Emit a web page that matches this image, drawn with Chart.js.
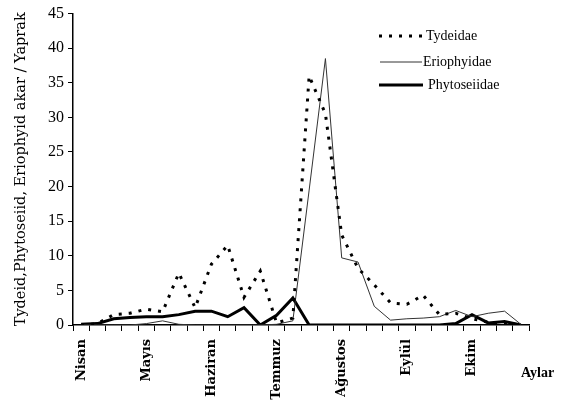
<!DOCTYPE html>
<html>
<head>
<meta charset="utf-8">
<script src="https://cdn.jsdelivr.net/npm/chart.js@4/dist/chart.umd.min.js"></script>
<style>
  html, body { margin: 0; padding: 0; background: #fff; }
  #wrap { width: 561px; height: 410px; position: relative; }
</style>
</head>
<body>
<div id="wrap"><canvas id="c" width="561" height="410"></canvas></div>
<script>
// ---- data ----
const months = ['Nisan', 'Mayıs', 'Haziran', 'Temmuz', 'Ağustos', 'Eylül', 'Ekim'];
const weeksPerMonth = 4;
const seriesNames = ['Tydeidae', 'Eriophyidae', 'Phytoseiidae'];
const tydeidae     = [0, 0.2, 1.5, 1.7, 2.3, 1.9, 7.5, 2.5, 8.8, 11.5, 4, 7.8, 0.3, 1, 36, 30.5, 13, 8.2, 5.8, 3.2, 3, 4.3, 1.5, 1.7, 0.9, 0.4, 0.3, 0];
const eriophyidae  = [0, 0, 0, 0, 0.2, 0.6, 0.1, 0, 0, 0, 0, 0, 0.1, 0.6, 19.5, 38.5, 9.7, 9.1, 2.7, 0.7, 0.9, 1, 1.2, 2.1, 1.2, 1.7, 2, 0.1];
const phytoseiidae = [0.1, 0.2, 0.9, 1.1, 1.2, 1.2, 1.5, 2, 2, 1.2, 2.5, 0, 1.4, 3.9, 0, 0, 0, 0, 0, 0, 0, 0, 0, 0.2, 1.5, 0.3, 0.5, 0];
const yTicks = [0, 5, 10, 15, 20, 25, 30, 35, 40, 45];
const yTitle = 'Tydeid,Phytoseiid, Eriophyid akar / Yaprak';
const xTitle = 'Aylar';

// category labels: month name on first week of each month
const labels = [];
months.forEach(m => { for (let w = 0; w < weeksPerMonth; w++) labels.push(w === 0 ? m : ''); });

const SERIF = "'Liberation Serif', 'Times New Roman', serif";
const WIDE_SERIF = "'DejaVu Serif', serif";

const legendPlugin = {
  id: 'customLegend',
  afterDraw(chart) {
    const ctx = chart.ctx;
    const items = [
      { y: 36, x0: 379, x1: 423, tx: 426 },
      { y: 62, x0: 380, x1: 422, tx: 423 },
      { y: 85, x0: 379, x1: 423, tx: 428 }
    ];
    ctx.save();
    chart.data.datasets.forEach((ds, i) => {
      const it = items[i];
      ctx.beginPath();
      ctx.setLineDash(ds.borderDash || []);
      ctx.lineWidth = ds.borderWidth;
      ctx.strokeStyle = ds.borderColor;
      ctx.moveTo(it.x0, it.y);
      ctx.lineTo(it.x1, it.y);
      ctx.stroke();
      ctx.setLineDash([]);
      ctx.fillStyle = '#000';
      ctx.font = '14px ' + SERIF;
      ctx.textBaseline = 'middle';
      ctx.textAlign = 'left';
      ctx.fillText(ds.label, it.tx, it.y);
    });
    ctx.font = 'bold 14px ' + SERIF;
    ctx.textBaseline = 'middle';
    ctx.fillText(xTitle, 521, 373);
    ctx.restore();
  }
};

new Chart(document.getElementById('c'), {
  type: 'line',
  data: {
    labels: labels,
    datasets: [
      { label: seriesNames[0], data: tydeidae, borderColor: '#000', borderWidth: 3, borderDash: [3, 7], pointRadius: 0, tension: 0, fill: false },
      { label: seriesNames[1], data: eriophyidae, borderColor: '#333', borderWidth: 1, pointRadius: 0, tension: 0, fill: false },
      { label: seriesNames[2], data: phytoseiidae, borderColor: '#000', borderWidth: 3, pointRadius: 0, tension: 0, fill: false }
    ]
  },
  options: {
    responsive: false,
    animation: false,
    layout: { padding: { top: 12, right: 32, left: 0, bottom: 0 } },
    plugins: { legend: { display: false }, tooltip: { enabled: false } },
    scales: {
      x: {
        type: 'category',
        offset: true,
        afterFit(s) { s.height = 85; },
        grid: { offset: true, drawOnChartArea: false, tickLength: 6, color: '#000', lineWidth: 1 },
        border: { color: '#000', width: 1.5 },
        ticks: { autoSkip: false, maxRotation: 90, minRotation: 90, color: '#000', padding: 8,
                 font: { family: WIDE_SERIF, size: 13, weight: 'bold' } }
      },
      y: {
        min: 0, max: 45,
        afterFit(s) { s.width = 73; },
        afterBuildTicks(s) { s.ticks = yTicks.map(v => ({ value: v })); },
        grid: { drawOnChartArea: false, tickLength: 5, color: '#000' },
        border: { color: '#000', width: 1.5 },
        ticks: { color: '#000', padding: 4, font: { family: SERIF, size: 16 } },
        title: { display: true, text: yTitle, color: '#000', padding: { top: 13, bottom: 0 },
                 font: { family: WIDE_SERIF, size: 14.5 } }
      }
    }
  },
  plugins: [legendPlugin]
});
</script>
</body>
</html>
